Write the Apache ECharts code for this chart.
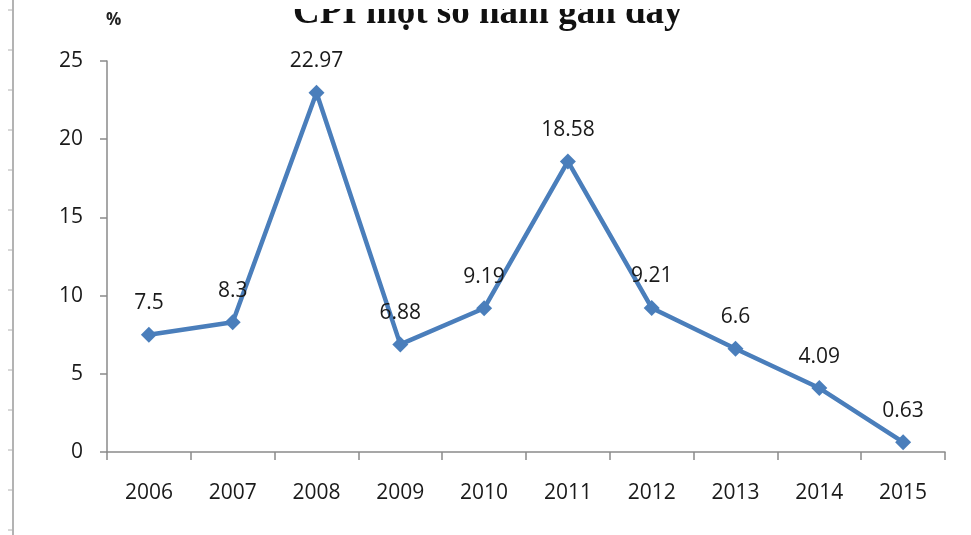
<!DOCTYPE html>
<html>
<head>
<meta charset="utf-8">
<script src="https://cdn.jsdelivr.net/npm/echarts@6/dist/echarts.min.js"></script>
<style>
  html, body { margin: 0; padding: 0; background: #fff; }
  #chart { width: 971px; height: 535px; }
</style>
</head>
<body>
<div id="chart"></div>
<script>
// CPI (%) by year
const years = ['2006', '2007', '2008', '2009', '2010', '2011', '2012', '2013', '2014', '2015'];
const cpi = [7.5, 8.3, 22.97, 6.88, 9.19, 18.58, 9.21, 6.6, 4.09, 0.63];
const yTicks = [0, 5, 10, 15, 20, 25];

const titleText = 'CPI một số năm gần đây';
const unitText = '%';

const axisGrey = '#8a8a8a';
const lineBlue = '#4a7ebb';

// ruler-like border on the left edge
const rulerTicks = [];
for (let y = 10; y < 535; y += 40) {
  rulerTicks.push({
    type: 'line',
    shape: { x1: 8, y1: y, x2: 13, y2: y },
    style: { stroke: '#b0b0b0', lineWidth: 1 },
    silent: true
  });
}

const chart = echarts.init(document.getElementById('chart'), null, { renderer: 'canvas' });
chart.setOption({
  animation: false,
  backgroundColor: '#fff',
  grid: { left: 107, right: 26, top: 61, bottom: 83, containLabel: false },
  graphic: [
    {
      type: 'line',
      shape: { x1: 13, y1: 0, x2: 13, y2: 535 },
      style: { stroke: '#9a9a9a', lineWidth: 1.5 },
      silent: true
    },
    ...rulerTicks,
    {
      type: 'text',
      left: 293,
      top: -5,
      z: 10,
      style: {
        text: titleText,
        font: 'bold 37px "Liberation Serif", serif',
        fill: '#111'
      },
      silent: true
    },
    // the page is cut just above the title's lower half
    {
      type: 'rect',
      shape: { x: 270, y: 0, width: 440, height: 9 },
      style: { fill: '#fff' },
      z: 11,
      silent: true
    },
    {
      type: 'text',
      left: 106,
      top: 12,
      style: {
        text: unitText,
        font: 'bold 17px "Open Sans", sans-serif',
        fill: '#222'
      },
      silent: true
    }
  ],
  xAxis: {
    type: 'category',
    data: years,
    boundaryGap: true,
    axisLine: { lineStyle: { color: axisGrey, width: 1.5 } },
    axisTick: { show: true, length: 8, alignWithLabel: false, lineStyle: { color: axisGrey, width: 1.5 } },
    axisLabel: {
      margin: 31,
      color: '#1a1a1a',
      fontFamily: '"Open Sans", sans-serif',
      fontSize: 21
    },
    splitLine: { show: false }
  },
  yAxis: {
    type: 'value',
    min: yTicks[0],
    max: yTicks[yTicks.length - 1],
    interval: 5,
    axisLine: { show: true, lineStyle: { color: axisGrey, width: 1.5 } },
    axisTick: { show: true, length: 7, lineStyle: { color: axisGrey, width: 1.5 } },
    axisLabel: {
      margin: 24,
      color: '#1a1a1a',
      fontFamily: '"Open Sans", sans-serif',
      fontSize: 21
    },
    splitLine: { show: false }
  },
  series: [{
    type: 'line',
    data: cpi,
    symbol: 'diamond',
    symbolSize: 16,
    lineStyle: { color: lineBlue, width: 4.5 },
    itemStyle: { color: lineBlue },
    label: {
      show: true,
      position: 'top',
      distance: 13,
      color: '#1a1a1a',
      fontFamily: '"Open Sans", sans-serif',
      fontSize: 21,
      formatter: p => String(p.value)
    }
  }]
});
</script>
</body>
</html>
